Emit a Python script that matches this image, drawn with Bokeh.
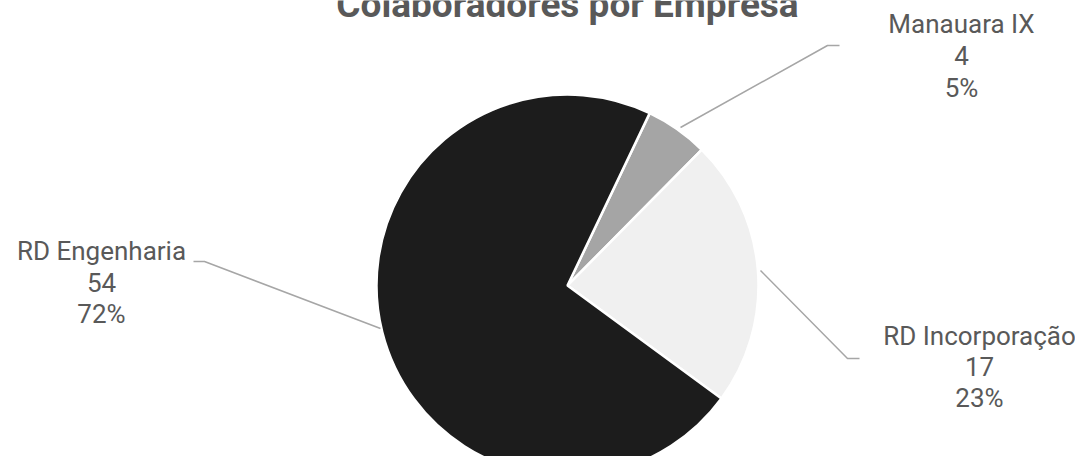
import numpy as np
from bokeh.plotting import figure
from bokeh.models import Range1d, ColumnDataSource
from bokeh.core.properties import value
from bokeh.embed import file_html
from bokeh.resources import INLINE

title = "Colaboradores por Empresa"
categories = ["Manauara IX", "RD Incorporação", "RD Engenharia"]
counts = [4, 17, 54]
colors = ["#a5a5a5", "#f0f0f0", "#1c1c1c"]

W, H = 1075, 456
p = figure(width=W, height=H, output_backend="svg", toolbar_location=None,
           x_range=Range1d(0, W), y_range=Range1d(0, H), min_border=0)
p.axis.visible = False
p.grid.visible = False
p.outline_line_color = None
p.background_fill_color = "white"

def Y(iy):
    return H - iy

# pie
total = sum(counts)
fracs = np.array(counts) / total
cum = np.concatenate([[0], np.cumsum(fracs)])
offset = np.deg2rad(90 - 25.5)
starts = offset - cum[:-1] * 2 * np.pi
ends = offset - cum[1:] * 2 * np.pi
cx, cy, r = 567, Y(285), 191
src = ColumnDataSource(dict(start=starts, end=ends, color=colors, cat=categories))
p.wedge(x=cx, y=cy, radius=r, start_angle="start", end_angle="end", direction="clock",
        fill_color="color", line_color="white", line_width=2.5, source=src)

# leader lines
def L(pts):
    p.line([a for a, b in pts], [Y(b) for a, b in pts], line_color="#a6a6a6", line_width=1.5)

L([(680, 127), (827, 45), (839, 45)])
L([(380, 328), (204, 261), (193, 261)])
L([(760, 270), (847, 358), (859, 358)])

# labels
pct = [f"{round(f * 100)}%" for f in fracs]
label_pos = {
    "Manauara IX": (961, [23, 55, 87]),
    "RD Incorporação": (979, [335, 366, 397]),
    "RD Engenharia": (101, [250, 282, 313]),
}
tx, ty, tt = [], [], []
for cat, n, pc in zip(categories, counts, pct):
    x, ys = label_pos[cat]
    for yy, t in zip(ys, [cat, str(n), pc]):
        tx.append(x); ty.append(Y(yy)); tt.append(t)
p.text(x=tx, y=ty, text=tt, text_align="center", text_baseline="alphabetic",
       text_font=value("Roboto"), text_font_size="26px", text_color="#595959")

p.text(x=[567], y=[Y(4)], text=[title], text_align="center", text_baseline="alphabetic",
       text_font=value("Roboto"), text_font_style="bold", text_font_size="37px",
       text_color="#595959")

open("out.html", "w").write(file_html(p, INLINE))
